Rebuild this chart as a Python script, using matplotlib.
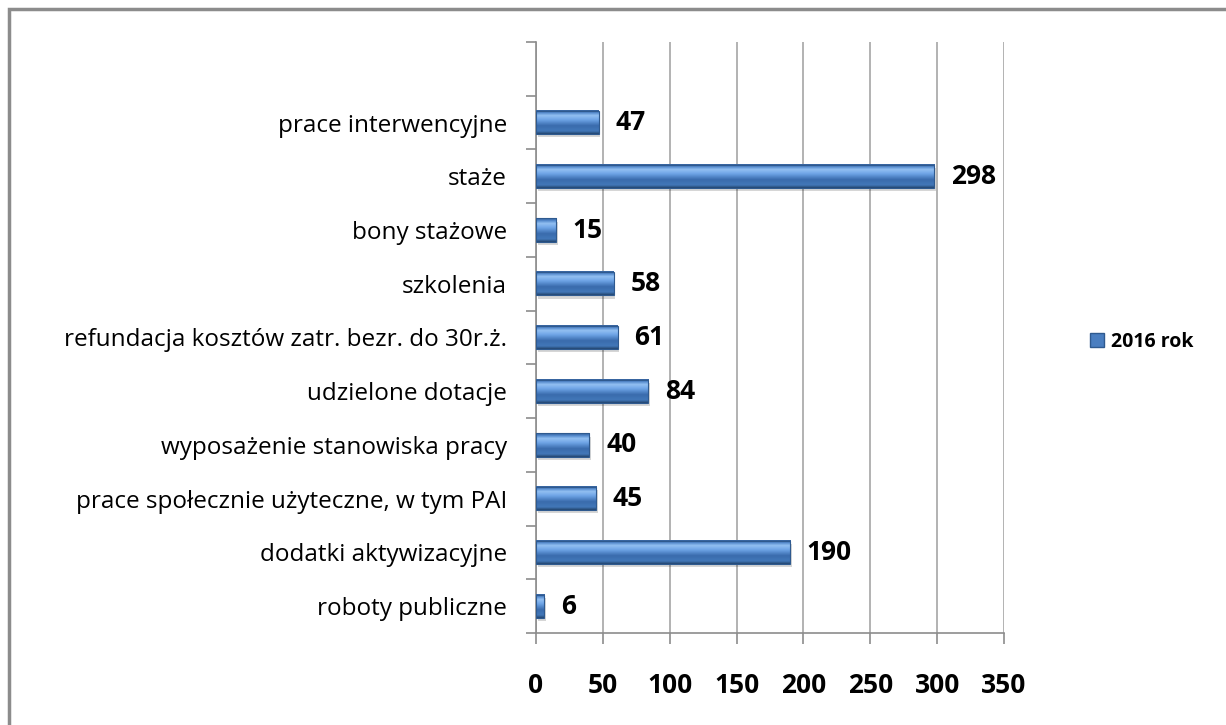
import numpy as np
import matplotlib
matplotlib.use('Agg')
import matplotlib.pyplot as plt
import matplotlib.transforms as mtransforms
from matplotlib.colors import LinearSegmentedColormap
from matplotlib.patches import Rectangle

# --- data (bottom to top, as drawn) ---
categories = ['roboty publiczne', 'dodatki aktywizacyjne',
              'prace społecznie użyteczne, w tym PAI',
              'wyposażenie stanowiska pracy', 'udzielone dotacje',
              'refundacja kosztów zatr. bezr. do 30r.ż.', 'szkolenia',
              'bony stażowe', 'staże', 'prace interwencyjne']
values = [6, 190, 45, 40, 84, 61, 58, 15, 298, 47]
series_name = '2016 rok'
xticks = [0, 50, 100, 150, 200, 250, 300, 350]

plt.rcParams['font.family'] = ['Open Sans', 'DejaVu Sans']

fig = plt.figure(figsize=(12.26, 7.25), dpi=100)
ax = fig.add_axes([536 / 1226, 1 - 633 / 725, (1004 - 536) / 1226, (633 - 42) / 725])

# outer chart frame (runs off the right and bottom)
fig.patches.append(Rectangle((9 / 1226, -0.05), 1.2, 1 - 9 / 725 + 0.05,
                             transform=fig.transFigure, fill=False,
                             edgecolor='#8c8c8c', linewidth=2.5, zorder=0))

ypos = np.arange(len(categories))
height = 0.43
bars = ax.barh(ypos, values, height=height, color='none', edgecolor='none', zorder=3)

# shaded bars: vertical gradient like a beveled 3D bar
grad = LinearSegmentedColormap.from_list('bar', [
    (0.0, '#24466f'), (0.12, '#4277b8'), (0.35, '#3a6cad'),
    (0.6, '#6ea4e6'), (0.78, '#93c0f2'), (0.9, '#5288cb'), (1.0, '#35609a')])
g = np.linspace(0, 1, 64).reshape(-1, 1)
for b in bars:
    x0, y0 = b.get_x(), b.get_y()
    w, h = b.get_width(), b.get_height()
    # soft shadow below-right
    ax.add_patch(Rectangle((x0 + 1.2, y0 - 0.06), w, h, facecolor='#000000',
                           alpha=0.16, edgecolor='none', zorder=2))
    ax.imshow(g, cmap=grad, aspect='auto', extent=(x0, x0 + w, y0, y0 + h),
              origin='lower', zorder=3, interpolation='bilinear')
    ax.add_patch(Rectangle((x0, y0), w, h, fill=False, edgecolor='#2f5a8f',
                           linewidth=0.8, zorder=4))
    ax.annotate(f'{int(w)}', (x0 + w, y0 + h / 2), xytext=(12, 0),
                textcoords='offset points', va='center', ha='left',
                fontsize=19, fontweight='bold', color='black', zorder=5)

ax.set_xlim(0, 350)
ax.set_ylim(-0.5, len(categories) + 0.5)
ax.set_xticks(xticks)
ax.set_xticklabels([str(t) for t in xticks], fontsize=19, fontweight='bold')
shift = mtransforms.ScaledTranslation(-8 / 100, 0, fig.dpi_scale_trans)
for lbl in ax.get_xticklabels():
    lbl.set_transform(lbl.get_transform() + shift)
ax.set_yticks(ypos)
ax.set_yticklabels(categories, fontsize=17.5)
ax.set_yticks(np.arange(-0.5, len(categories) + 1), minor=True)
ax.tick_params(axis='y', which='major', length=0, pad=21)
ax.tick_params(axis='y', which='minor', length=7, color='#8c8c8c', width=1.2)
ax.tick_params(axis='x', length=8, color='#8c8c8c', width=1.2, pad=20)

ax.grid(axis='x', color='#a6a6a6', linewidth=1.2, zorder=1)
ax.set_axisbelow(True)
for s in ['top', 'right']:
    ax.spines[s].set_visible(False)
for s in ['left', 'bottom']:
    ax.spines[s].set_color('#8c8c8c')
    ax.spines[s].set_linewidth(1.2)

handle = Rectangle((0, 0), 1, 1, facecolor='#4a7ec0', edgecolor='#2f5a8f')
fig.legend([handle], [series_name], loc='center left',
           bbox_to_anchor=(1072 / 1226, 1 - 342 / 725), frameon=False,
           prop={'size': 14, 'weight': 'bold'}, handlelength=0.75,
           handleheight=0.75, handletextpad=0.35)

fig.savefig('out.png', dpi=100)
